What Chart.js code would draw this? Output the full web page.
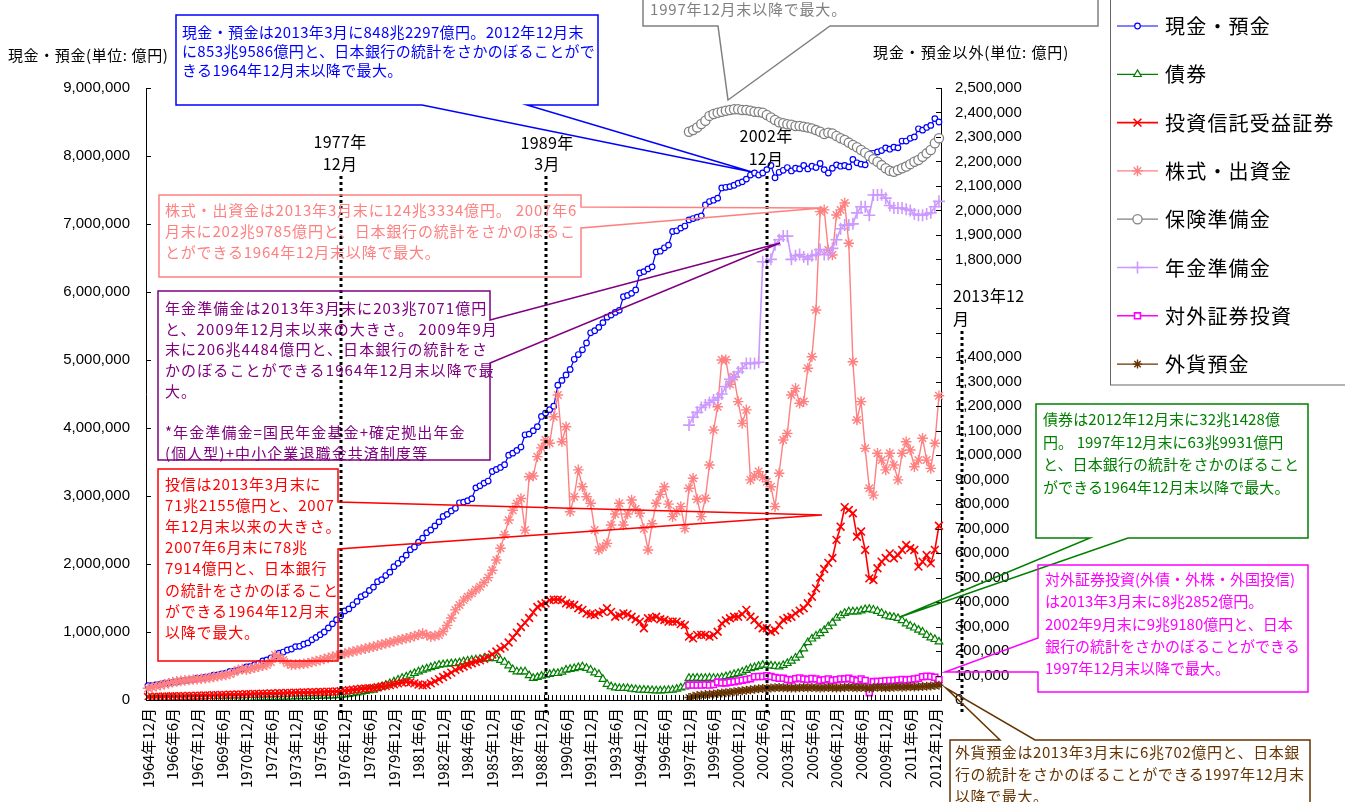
<!DOCTYPE html>
<html><head><meta charset="utf-8">
<script src="https://cdn.jsdelivr.net/npm/chart.js@4.4.1/dist/chart.umd.min.js"></script>
<style>
html,body{margin:0;padding:0;background:#fff;}
body{width:1345px;height:802px;overflow:hidden;position:relative;}
#c{position:absolute;left:0;top:0;}
.t{position:absolute;white-space:nowrap;font-family:'Noto Sans CJK JP',sans-serif;height:20px;line-height:20px;}
</style></head>
<body>
<canvas id="c" width="1345" height="802" style="width:1345px;height:802px"></canvas>
<script>
// ---- categories (quarter ends, 1964年12月 .. 2013年3月) ----
const categories = [];
categories.push('1964年12月');
for (let y = 1965; y <= 2013; y++) {
  for (const m of [3, 6, 9, 12]) {
    if (y === 2013 && m > 3) break;
    categories.push(y + '年' + m + '月');
  }
}
const xTickLabels = ['1964年12月','1966年6月','1967年12月','1969年6月','1970年12月','1972年6月','1973年12月','1975年6月','1976年12月','1978年6月','1979年12月','1981年6月','1982年12月','1984年6月','1985年12月','1987年6月','1988年12月','1990年6月','1991年12月','1993年6月','1994年12月','1996年6月','1997年12月','1999年6月','2000年12月','2002年6月','2003年12月','2005年6月','2006年12月','2008年6月','2009年12月','2011年6月','2012年12月'];
const leftTickLabels = ['0','1,000,000','2,000,000','3,000,000','4,000,000','5,000,000','6,000,000','7,000,000','8,000,000','9,000,000'];
const rightTickLabels = ['0','100,000','200,000','300,000','400,000','500,000','600,000','700,000','800,000','900,000','1,000,000','1,100,000','1,200,000','1,300,000','1,400,000','','','','1,800,000','1,900,000','2,000,000','2,100,000','2,200,000','2,300,000','2,400,000','2,500,000'];

// ---- series values (兆円) ----
const cashDeposits = [21,
21.5,22.5,23,24.5, 25,26,26.5,28, 28.5,29.5,30,32, 32.5,33.5,34.5,36.5, 37,38.5,39.5,42,
42.5,44,45.5,48.5, 49.5,52,54,57.5, 59,62,64.5,69, 70.5,73.5,75,78.5, 79,82,84,88.5,
92,96,100,106, 112,118,124,131, 134,140,145,152, 155,161,166,174, 177,183,188,196,
201,207,213,221, 225,232,238,246, 250,256,262,270, 273,278,282,290, 291,293,296,312,
315,319,322,336, 339,342,346,360, 363,367,372,390, 391,396,402,417, 422,427,432,463,
470,478,486,501, 508,515,525,540, 543,548,555,563, 566,570,573,593, 595,598,603,628,
630,634,637,659, 660,665,669,689, 690,694,697,706, 708,710,712,728, 733,735,738,753,
754,755,757,760, 762,766,772,775, 772,775,780,786, 768,776,779,783, 778,782,781,786,
781,785,783,789, 780,775,782,787, 785,786,784,795, 790,788,787,804, 804,806,808,812,
810,813,812,822, 822,826,828,840, 838,842,845,855, 850];

const bonds = [0.1,0.1,0.2,0.2,0.2,0.3,0.3,0.3,0.3,0.4,
0.4,0.4,0.4,0.5,0.5,0.5,0.5,0.6,0.6,0.6,
0.7,0.7,0.7,0.8,0.8,0.8,0.9,0.9,1.0,1.0,
1.1,1.1,1.2,1.2,1.3,1.3,1.4,1.4,1.5,1.5,
1.6,1.6,1.7,1.7,1.8,1.8,1.9,2.0,2.2,2.4,
2.7,3.0,3.3,3.6,3.9,4.1,4.7,5.4,6.1,6.8,
7.5,8.2,8.9,9.5,10.2,10.9,11.6,12.3,12.8,13.3,
13.8,14.3,14.5,14.7,14.9,15.0,15.3,15.7,16.0,16.3,
16.5,16.7,16.9,17.0,17.2,17.0,16.3,15.5,14.0,12.5,
11.6,11.6,11.6,10.0,8.9,9.3,9.8,10.2,10.5,10.9,
10.9,11.5,12.3,12.6,12.9,13.3,13.6,13.0,12.3,11.2,
10.5,8.5,6.5,5.5,5.0,4.8,4.8,4.8,4.5,4.3,
4.1,4.1,4.0,3.9,3.8,3.8,3.9,4.0,4.1,4.5,
5.0,5.4,8.9,8.9,9.0,8.9,8.9,9.0,8.9,8.9,
9.2,9.6,10.0,10.5,10.9,11.5,12.2,12.9,13.3,13.8,
14.3,14.3,14.0,13.8,13.6,14.2,15.0,16.0,17.2,18.4,
21.0,23.5,25.0,26.2,27.2,28.5,30.0,31.5,33.5,34.5,
35.5,36.1,36.1,36.1,36.5,37.0,37.1,36.8,36.3,35.5,
34.5,34.0,33.8,33.4,32.5,31.2,30.3,29.5,28.6,27.8,
26.5,25.5,24.8,23.8];

const investmentTrusts = [1.2,1.2,1.3,1.3,1.4,1.4,1.5,1.5,1.6,1.6,
1.7,1.7,1.8,1.8,1.9,1.9,2.0,2.0,2.1,2.1,
2.2,2.2,2.3,2.3,2.4,2.4,2.5,2.5,2.6,2.6,
2.7,2.7,2.8,2.8,2.9,2.9,3.0,3.0,3.1,3.1,
3.2,3.2,3.3,3.3,3.4,3.4,3.5,3.6,3.8,4.0,
4.2,4.4,4.6,4.7,4.8,4.9,5.2,5.5,5.8,6.1,
6.4,6.8,7.1,7.4,7.2,6.8,6.3,6.0,6.1,6.8,
7.6,8.5,9.4,10.2,11.2,12.3,13.0,13.7,14.4,15.0,
15.6,16.2,16.8,17.6,18.6,19.8,21.0,21.8,23.5,25.5,
27.5,29.8,31.5,33.5,35.8,38.0,39.0,39.5,40.8,41.0,
41.0,40.8,39.5,39.0,38.8,37.5,36.8,35.4,35.0,34.7,
35.5,36.1,37.5,36.0,34.0,34.5,35.4,35.0,34.0,33.0,
32.0,29.3,33.4,33.5,34.0,33.0,32.7,32.0,32.0,32.0,
31.0,30.6,25.9,25.2,26.6,26.6,26.6,25.9,26.5,27.9,
31.3,32.5,33.4,34.0,34.0,35.0,36.8,34.0,32.7,30.6,
29.3,29.3,27.9,28.5,30.6,32.7,33.5,34.0,35.4,36.5,
37.5,39.5,42.2,45.6,50.0,53.5,56.0,58.0,65.4,70.8,
78.8,77.6,76.3,66.7,68.8,61.3,49.7,49.0,53.8,56.5,
58.0,59.9,57.9,59.2,61.3,63.3,62.0,61.3,54.5,56.5,
59.2,55.8,61.3,71.2];

const equities = [4.8,5.2,5.6,6.0,6.4,6.8,7.3,7.6,7.8,8.0,
8.2,8.4,8.5,8.7,8.9,9.1,9.4,9.7,10.0,10.2,
10.6,11.4,12.3,12.6,12.4,12.8,13.2,13.6,14.0,14.3,
15.5,18.4,17.5,16.3,15.0,14.3,14.5,14.6,14.8,15.0,
15.5,15.9,16.3,16.8,17.2,17.7,18.1,18.6,19.0,19.4,
19.8,20.2,20.6,21.0,21.4,21.8,22.2,22.7,23.1,23.5,
23.9,24.4,24.8,25.2,25.6,26.1,26.6,27.2,26.5,25.9,
26.2,26.6,28.0,30.5,33.5,36.8,38.8,40.8,42.2,43.6,
45.0,46.3,48.0,50.0,53.0,57.2,62.0,67.5,73.5,77.5,
80.3,82.3,69.4,91.2,91.5,99.4,103.0,106.2,104.9,115.7,
124.6,105.5,111.6,76.9,83.0,94.0,87.1,83.0,80.4,69.4,
61.3,62.5,64.0,71.5,76.0,80.4,71.5,76.0,81.7,78.0,
76.3,70.0,61.3,72.0,80.4,84.0,87.1,80.0,74.9,77.0,
79.0,70.1,86.5,90.6,82.0,74.9,82.4,96.0,110.3,119.8,
138.9,139.0,129.0,132.0,121.9,113.0,118.5,89.9,91.5,93.3,
91.0,89.2,87.1,79.0,92.6,106.2,108.9,124.6,127.3,121.2,
121.9,135.5,140.2,159.3,199.5,200.2,183.8,181.8,198.1,200.2,
203.0,186.6,138.2,114.4,121.9,102.8,86.5,83.7,100.8,98.0,
94.0,100.8,96.0,89.9,100.8,105.5,102.1,95.3,98.0,106.9,
98.0,94.6,104.9,124.3];

// from 1997年12月
const insuranceReserves = [232.1,232.8,233.9,235.3,236.6,238.6,239.4,239.9,240.3,240.7,
241.0,241.3,241.3,241.0,241.0,240.7,240.3,240.2,239.9,239.0,
238.0,236.9,236.0,235.6,235.2,235.0,234.5,234.5,234.2,233.9,
233.5,232.8,232.1,231.2,231.7,231.4,230.4,229.5,228.8,227.7,
226.7,225.8,224.7,223.6,222.2,220.9,219.9,218.5,217.2,216.2,
215.8,216.5,217.2,217.9,218.9,219.9,220.6,221.9,223.3,224.7,
227.4,229.5];
const pensionReserves = [112.3,115.5,117.5,119.5,120.5,121.5,122.5,123.5,125,128,
131,132,134,135.5,137.5,137.5,137.5,138,179,179,
180,186,188,189.5,189.5,180,181.5,182,181,180,
181.5,182,184,182,182,184.5,188,192.5,194,194,
194.5,199,201.5,201.5,198,206.3,206.3,206.4,205,202,
201,201,201,200.5,200,198.5,198,198,198.5,199,
201.5,203.7];
const foreignSecurities = [6.1,6.1,6.1,6.1,6.2,6.1,6.3,7.3,7.0,7.0,
7.3,7.5,7.8,8.1,8.4,8.7,9.5,9.6,9.6,9.9,
9.6,9.2,8.9,8.9,8.4,8.2,8.7,9.0,8.6,8.4,
8.8,8.6,8.0,8.3,8.6,8.0,8.3,8.6,8.6,8.9,
8.4,7.9,8.6,8.0,3.0,7.5,7.6,7.7,7.9,8.0,
8.0,8.2,8.4,8.2,8.4,8.6,8.9,9.5,9.7,9.6,
9.3,8.3];
const foreignDeposits = [1.0,1.5,1.8,2.0,2.2,2.3,2.5,2.7,2.9,3.0,
3.2,3.4,3.6,3.8,4.0,4.2,4.4,4.6,4.7,4.8,
4.9,5.0,5.1,5.0,5.0,4.9,4.9,5.0,5.1,5.0,
5.1,5.0,4.9,5.0,5.1,5.0,4.9,5.0,5.1,5.2,
5.1,5.0,5.1,5.0,4.8,5.0,5.2,5.1,5.0,5.1,
5.2,5.3,5.2,5.3,5.4,5.3,5.4,5.5,5.6,5.7,
5.9,6.07];
const lateStart = categories.indexOf('1997年12月');
const pad = arr => new Array(lateStart).fill(null).concat(arr);

// ---- chart ----
const FONT = "'Noto Sans CJK JP', sans-serif";
const NUMFONT = "'Liberation Sans', Arial, sans-serif";

const seriesDefs = [
  {label:'現金・預金', data:cashDeposits, axis:'y', color:'#0000FF', style:'circle', r:2.8, bg:'#FFFFFF', bw:1.2, lw:1.2},
  {label:'債券', data:bonds, axis:'y1', color:'#008000', style:'triangle', r:4.4, bg:'#FFFFFF', bw:1.2, lw:1.3},
  {label:'投資信託受益証券', data:investmentTrusts, axis:'y1', color:'#FF0000', style:'crossRot', r:5.5, bg:'#FF0000', bw:1.6, lw:1.6},
  {label:'株式・出資金', data:equities, axis:'y1', color:'#FF8080', style:'star', r:5.3, bg:'#FF8080', bw:1.4, lw:1.4},
  {label:'保険準備金', data:pad(insuranceReserves), axis:'y1', color:'#808080', style:'circle', r:4.6, bg:'#FFFFFF', bw:1.3, lw:1.3},
  {label:'年金準備金', data:pad(pensionReserves), axis:'y1', color:'#CC99FF', style:'cross', r:6, bg:'#CC99FF', bw:1.6, lw:1.6},
  {label:'対外証券投資', data:pad(foreignSecurities), axis:'y1', color:'#FF00FF', style:'rect', r:4.2, bg:'#FFFFFF', bw:1.6, lw:1.6},
  {label:'外貨預金', data:pad(foreignDeposits), axis:'y1', color:'#663300', style:'star', r:4.5, bg:'#663300', bw:1.4, lw:1.4}
];

const datasets = seriesDefs.map((s, i) => ({
  label: s.label, data: s.data, yAxisID: s.axis,
  borderColor: s.color, borderWidth: s.lw, backgroundColor: s.bg,
  pointStyle: s.style, pointRadius: s.r, pointBorderColor: s.color,
  pointBackgroundColor: s.bg, pointBorderWidth: s.bw, pointHoverRadius: s.r,
  tension: 0, spanGaps: false, order: seriesDefs.length - i
}));

// dotted reference lines (category index) and their labels
const refLines = [
  {cat:'1976年9月', label:['1977年','12月']},
  {cat:'1989年3月', label:['1989年','3月']},
  {cat:'2002年9月', label:['2002年','12月']}
];

function line(ctx, x1, y1, x2, y2){ctx.beginPath();ctx.moveTo(x1,y1);ctx.lineTo(x2,y2);ctx.stroke();}
function poly(ctx, pts, color, w){
  ctx.save();ctx.strokeStyle=color;ctx.lineWidth=w||1.5;ctx.lineJoin='miter';
  ctx.beginPath();ctx.moveTo(pts[0][0],pts[0][1]);
  for(let k=1;k<pts.length;k++)ctx.lineTo(pts[k][0],pts[k][1]);
  ctx.closePath();ctx.stroke();ctx.restore();
}

const callouts = [
  {color:'#0000FF', pts:[[176,15],[598,15],[598,105],[527,105],[752,172],[422,105],[176,105]]},
  {color:'#808080', pts:[[643,-5],[1098,-5],[1098,26],[830,26],[728,100],[718,26],[643,26]]},
  {color:'#FF8080', pts:[[159,195],[581,195],[581,207],[822,208],[581,228],[581,277],[159,277]]},
  {color:'#800080', pts:[[158,291],[490,291],[490,320],[780,243],[490,363],[490,460],[158,460]]},
  {color:'#FF0000', pts:[[158,469],[338,469],[338,502],[822,515],[338,549],[338,661],[158,661]]},
  {color:'#008000', pts:[[1036,404],[1308,404],[1308,538],[1128,538],[900,617],[1090,538],[1036,538]]},
  {color:'#FF00FF', pts:[[1038,565],[1308,565],[1308,692],[1038,692],[1038,672],[945,672],[1038,638]]},
  {color:'#663300', pts:[[950,740],[1000,740],[946,688],[1035,740],[1310,740],[1310,812],[950,812]]}
];

const overlay = {
  id:'overlay',
  afterDatasetsDraw(chart){
    const ctx = chart.ctx, ca = chart.chartArea;
    const xs = chart.scales.x, yl = chart.scales.y, yr = chart.scales.y1;
    ctx.save();
    ctx.strokeStyle = '#000'; ctx.lineWidth = 1;
    // inward tick marks
    yl.ticks.forEach(t => { const py = Math.round(yl.getPixelForValue(t.value)) + 0.5; line(ctx, ca.left, py, ca.left + 5, py); });
    yr.ticks.forEach(t => { const py = Math.round(yr.getPixelForValue(t.value)) + 0.5; line(ctx, ca.right - 5, py, ca.right, py); });
    const step = (xs.getPixelForValue(1) - xs.getPixelForValue(0));
    for (let i = 0; i <= categories.length; i++) {
      const px = Math.round(xs.getPixelForValue(i) - step / 2) + 0.5;
      line(ctx, px, ca.bottom - 5, px, ca.bottom);
    }
    // dotted lines
    ctx.lineWidth = 3; ctx.setLineDash([3, 3]); ctx.strokeStyle = '#000';
    refLines.forEach(r => {
      const px = Math.round(xs.getPixelForValue(categories.indexOf(r.cat)));
      line(ctx, px, 176, px, ca.bottom + 13);
    });
    line(ctx, ca.right + 21, 331, ca.right + 21, ca.bottom + 13);
    ctx.setLineDash([]);
    ctx.restore();
    callouts.forEach(c => poly(ctx, c.pts, c.color, 1.5));
    // legend frame + samples
    ctx.save();
    ctx.strokeStyle = '#666'; ctx.lineWidth = 1;
    ctx.strokeRect(1110.5, -2, 260, 387);
    seriesDefs.forEach((s, i) => {
      const y = 26 + i * 48.3;
      ctx.strokeStyle = s.color; ctx.lineWidth = s.lw;
      line(ctx, 1117, y, 1158, y);
      ctx.fillStyle = s.bg; ctx.strokeStyle = s.color; ctx.lineWidth = s.bw;
      if (Chart.helpers && Chart.helpers.drawPoint) {
        Chart.helpers.drawPoint(ctx, {pointStyle: s.style, radius: s.r, rotation: 0, borderWidth: s.bw}, 1137.5, y);
      }
    });
    ctx.restore();
  }
};

new Chart(document.getElementById('c'), {
  type:'line',
  data:{labels: categories, datasets},
  options:{
    responsive:false, animation:false, devicePixelRatio:1,
    layout:{padding:{top:88, left:0, right:0, bottom:0}},
    plugins:{legend:{display:false}, title:{display:false}, tooltip:{enabled:false}},
    scales:{
      x:{
        type:'category', offset:true,
        grid:{display:false, drawTicks:false},
        border:{display:true, color:'#000', width:1},
        ticks:{autoSkip:false, maxRotation:90, minRotation:90, padding:8, color:'#000',
          font:{family:FONT, size:15},
          callback:(v, i) => xTickLabels.includes(categories[i]) ? categories[i] : ''},
        afterFit: s => { s.height = 102; }
      },
      y:{
        position:'left', min:0, max:900,
        grid:{display:false, drawTicks:false},
        border:{display:true, color:'#000', width:1},
        ticks:{stepSize:100, maxTicksLimit:20, autoSkip:false, padding:16, color:'#000',
          font:{family:NUMFONT, size:15},
          callback:(v, i) => leftTickLabels[i]},
        afterFit: s => { s.width = 146; }
      },
      y1:{
        position:'right', min:0, max:250,
        grid:{display:false, drawTicks:false},
        border:{display:true, color:'#000', width:1},
        ticks:{stepSize:10, maxTicksLimit:30, autoSkip:false, padding:14, color:'#000',
          font:{family:NUMFONT, size:15},
          callback:(v, i) => rightTickLabels[i]},
        afterFit: s => { s.width = 404; }
      }
    }
  },
  plugins:[overlay]
});

// ---- text overlays ----
function addText(txt, x, yc, o){
  const d = document.createElement('div');
  d.className = 't'; d.textContent = txt;
  d.style.left = x + 'px'; d.style.top = (yc - 10) + 'px';
  d.style.fontSize = (o.size || 15) + 'px';
  d.style.color = o.color || '#000';
  d.style.letterSpacing = (o.ls != null ? o.ls : 0.8) + 'px';
  if (o.center) d.style.transform = 'translateX(-50%)';
  document.body.appendChild(d);
}
const notes = [
  {color:'#0000FF', x:182, y:32, dy:19, ls:0.35, lines:['現金・預金は2013年3月に848兆2297億円。2012年12月末','に853兆9586億円と、日本銀行の統計をさかのぼることがで','きる1964年12月末以降で最大。']},
  {color:'#808080', x:650, y:9, dy:20, ls:0.8, lines:['1997年12月末以降で最大。']},
  {color:'#FF8080', x:165, y:210, dy:21.2, ls:0.8, lines:['株式・出資金は2013年3月末に124兆3334億円。 2007年6','月末に202兆9785億円と、日本銀行の統計をさかのぼるこ','とができる1964年12月末以降で最大。']},
  {color:'#800080', x:165, y:308, dy:20.7, ls:1.1, lines:['年金準備金は2013年3月末に203兆7071億円','と、2009年12月末以来の大きさ。 2009年9月','末に206兆4484億円と、日本銀行の統計をさ','かのぼることができる1964年12月末以降で最','大。','','*年金準備金=国民年金基金+確定拠出年金','(個人型)+中小企業退職金共済制度等']},
  {color:'#FF0000', x:165, y:484, dy:21.1, ls:0.8, lines:['投信は2013年3月末に','71兆2155億円と、2007','年12月末以来の大きさ。','2007年6月末に78兆','7914億円と、日本銀行','の統計をさかのぼること','ができる1964年12月末','以降で最大。']},
  {color:'#008000', x:1043, y:419, dy:22.7, ls:0.1, lines:['債券は2012年12月末に32兆1428億','円。 1997年12月末に63兆9931億円','と、日本銀行の統計をさかのぼること','ができる1964年12月末以降で最大。']},
  {color:'#FF00FF', x:1045, y:579, dy:22.3, ls:0, lines:['対外証券投資(外債・外株・外国投信)','は2013年3月末に8兆2852億円。','2002年9月末に9兆9180億円と、日本','銀行の統計をさかのぼることができる','1997年12月末以降で最大。']},
  {color:'#663300', x:955, y:752, dy:22, ls:0.6, lines:['外貨預金は2013年3月末に6兆702億円と、日本銀','行の統計をさかのぼることができる1997年12月末','以降で最大。']}
];
notes.forEach(n => n.lines.forEach((l, k) => { if (l) addText(l, n.x, n.y + k * n.dy, {color:n.color, ls:n.ls}); }));

addText('現金・預金(単位: 億円)', 8, 55, {size:15, ls:0.6});
addText('現金・預金以外(単位: 億円)', 873, 52, {size:15, ls:0.9});
const refX = [340, 547, 766], refY = [[141,163],[142,163],[135,158]];
refLines.forEach((r, k) => {
  addText(r.label[0], refX[k], refY[k][0], {size:16, ls:0.3, center:true});
  addText(r.label[1], refX[k], refY[k][1], {size:16, ls:0.3, center:true});
});
addText('2013年12', 953, 295, {size:16, ls:0.3});
addText('月', 953, 318, {size:16, ls:0.3});
seriesDefs.forEach((s, i) => addText(s.label, 1165, 26 + i * 48.3, {size:20, ls:1.2}));
</script>
</body></html>
